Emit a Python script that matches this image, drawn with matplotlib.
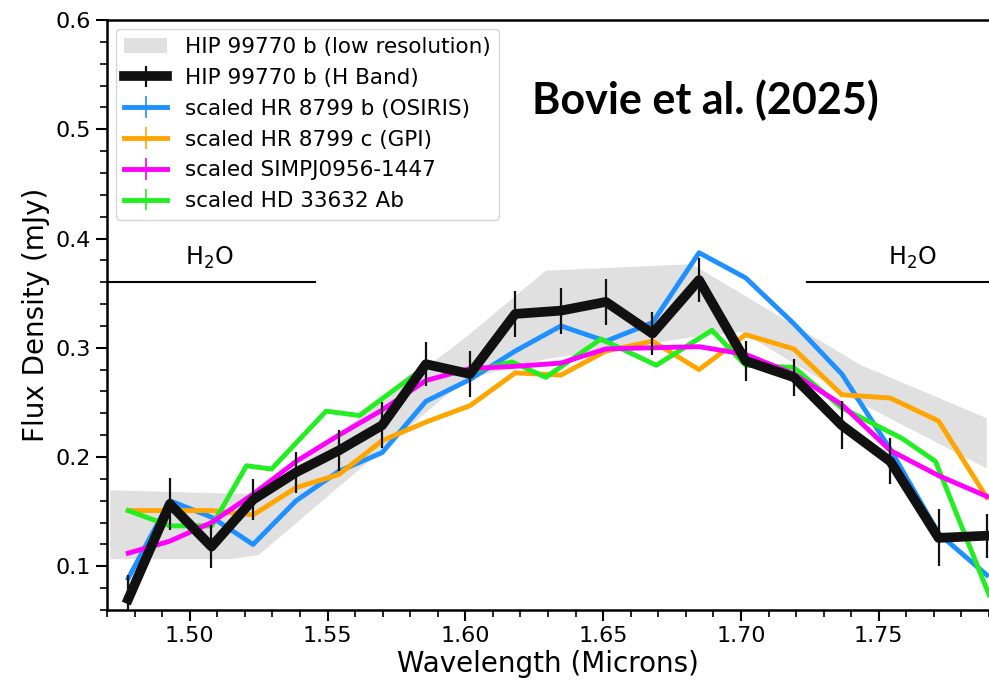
"""
H band spectrum of HIP 99770 b compared with scaled L/T dwarf spectra
"""
import numpy as np
import matplotlib
matplotlib.use("Agg")
import matplotlib.pyplot as plt

# wavelength grid (microns)
wave = [1.4777, 1.4928, 1.5079, 1.5230, 1.5386, 1.5541, 1.5698, 1.5857, 1.6017, 1.6181,
        1.6347, 1.6510, 1.6679, 1.6848, 1.7017, 1.7192, 1.7366, 1.7542, 1.7717, 1.7892]

# HIP 99770 b H band (mJy)
hip_flux = [0.070, 0.157, 0.118, 0.161, 0.186, 0.206, 0.229, 0.285, 0.276, 0.331,
            0.334, 0.342, 0.313, 0.362, 0.288, 0.273, 0.229, 0.196, 0.126, 0.128]
hip_err = [0.022, 0.024, 0.020, 0.019, 0.019, 0.019, 0.021, 0.020, 0.021, 0.021,
           0.021, 0.021, 0.020, 0.020, 0.018, 0.017, 0.022, 0.021, 0.026, 0.020]

# comparison objects
hr8799b = [0.089, 0.160, 0.145, 0.120, 0.160, 0.187, 0.204, 0.251, 0.271, 0.297,
           0.320, 0.306, 0.323, 0.387, 0.364, 0.322, 0.276, 0.207, 0.130, 0.092]
hr8799c = [0.151, 0.151, 0.151, 0.147, 0.172, 0.184, 0.215, 0.232, 0.247, 0.277,
           0.275, 0.297, 0.306, 0.280, 0.312, 0.299, 0.257, 0.254, 0.233, 0.163]
simp = [0.112, 0.123, 0.140, 0.166, 0.196, 0.220, 0.243, 0.270, 0.281, 0.283,
        0.286, 0.299, 0.300, 0.301, 0.294, 0.276, 0.248, 0.206, 0.183, 0.164]

hd_wave = [1.4777, 1.4928, 1.5080, 1.5206, 1.5297, 1.5495, 1.5616, 1.5857, 1.6017, 1.6170,
           1.6292, 1.6492, 1.6693, 1.6895, 1.7017, 1.7192, 1.7366, 1.7585, 1.7706, 1.7900]
hd33632 = [0.151, 0.137, 0.137, 0.192, 0.189, 0.242, 0.238, 0.283, 0.278, 0.287,
           0.273, 0.308, 0.284, 0.316, 0.284, 0.282, 0.245, 0.217, 0.196, 0.074]

# low resolution spectrum envelope
lowres_wave = [1.471, 1.515, 1.525, 1.600, 1.629, 1.682, 1.700, 1.743, 1.789]
lowres_hi = [0.170, 0.167, 0.167, 0.310, 0.371, 0.377, 0.350, 0.285, 0.236]
lowres_lo = [0.107, 0.107, 0.111, 0.272, 0.290, 0.310, 0.315, 0.250, 0.190]

fig = plt.figure(figsize=(9.89, 6.83), dpi=100)
ax = fig.add_axes([0.1082, 0.1069, 0.8918, 0.8638])

ax.fill_between(lowres_wave, lowres_lo, lowres_hi, color="#e0e0e0", lw=0,
                label="HIP 99770 b (low resolution)", zorder=1)
ax.errorbar(wave, hip_flux, yerr=hip_err, color="#111111", lw=7, elinewidth=1.6,
            label="HIP 99770 b (H Band)", zorder=4)
zeros = np.zeros(len(wave))
ax.errorbar(wave, hr8799b, yerr=zeros, color="#1E90FF", lw=3.5, elinewidth=1.2,
            label="scaled HR 8799 b (OSIRIS)", zorder=2)
ax.errorbar(wave, hr8799c, yerr=zeros, color="#FFA500", lw=3.5, elinewidth=1.2,
            label="scaled HR 8799 c (GPI)", zorder=2)
ax.errorbar(wave, simp, yerr=zeros, color="#FF00FF", lw=3.5, elinewidth=1.2,
            label="scaled SIMPJ0956-1447", zorder=3)
ax.errorbar(hd_wave, hd33632, yerr=zeros, color="#22EE22", lw=3.5, elinewidth=1.2,
            label="scaled HD 33632 Ab", zorder=2)

# water absorption regions
ax.plot([1.47, 1.5453], [0.36, 0.36], color="black", lw=1.5)
ax.plot([1.7239, 1.80], [0.36, 0.36], color="black", lw=1.5)
ax.text(1.507, 0.370, "H$_2$O", fontsize=17, ha="center", va="bottom")
ax.text(1.762, 0.370, "H$_2$O", fontsize=17, ha="center", va="bottom")

ax.text(1.687, 0.527, "Bovie et al. (2025)", fontsize=31, fontweight="bold",
        family="Lato", ha="center", va="center")

ax.set_xlim(1.47, 1.7895)
ax.set_ylim(0.06, 0.6)
ax.set_xticks([1.50, 1.55, 1.60, 1.65, 1.70, 1.75])
ax.set_xticks(np.arange(1.47, 1.79, 0.01), minor=True)
ax.set_yticks([0.1, 0.2, 0.3, 0.4, 0.5, 0.6])
ax.set_yticks(np.arange(0.06, 0.601, 0.02), minor=True)
ax.tick_params(which="major", length=8, width=1.5, labelsize=16)
ax.tick_params(which="minor", length=5, width=1.2)
for side in ["left", "bottom", "top"]:
    ax.spines[side].set_linewidth(1.8)
ax.spines["right"].set_visible(False)

ax.set_xlabel("Wavelength (Microns)", fontsize=20, labelpad=3)
ax.set_ylabel("Flux Density (mJy)", fontsize=20)

ax.legend(loc="upper left", fontsize=15.5, handlelength=2.0, borderaxespad=0.4,
          labelspacing=0.5, fancybox=True)

fig.savefig("out.png", dpi=100)
